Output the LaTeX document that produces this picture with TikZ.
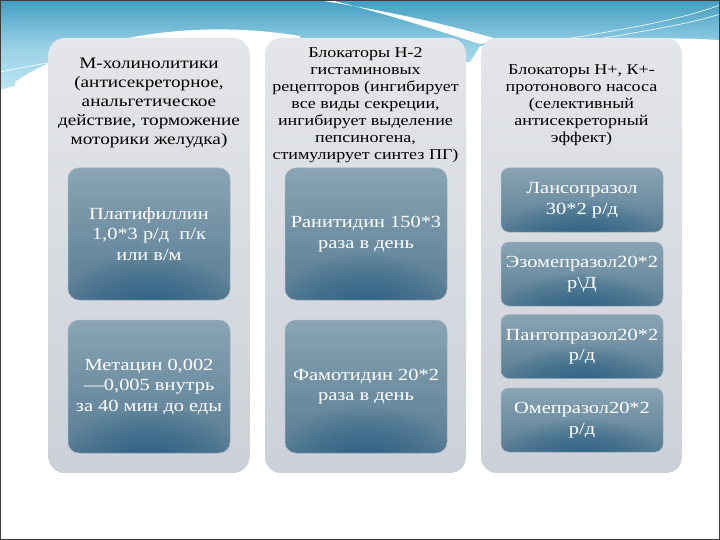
\documentclass[tikz,border=0pt]{standalone}
\usepackage{fontspec}
\setmainfont{Liberation Serif}[FakeStretch=1.2]
\usetikzlibrary{calc}
\definecolor{bgTop}{RGB}{66,158,194}
\definecolor{bgMid}{RGB}{150,207,228}
\definecolor{bgLow}{RGB}{190,230,242}
\definecolor{panelTop}{RGB}{228,230,233}
\definecolor{panelBot}{RGB}{204,208,216}
\definecolor{boxTop}{RGB}{138,164,180}
\definecolor{boxMid}{RGB}{112,144,163}
\definecolor{boxBot}{RGB}{88,124,148}
\definecolor{boxSpot}{RGB}{30,88,128}
\definecolor{boxEdge}{RGB}{160,178,192}
\definecolor{frameCol}{RGB}{60,60,60}
\newcommand{\glowlayers}[2]{%
  \foreach \k in {1,...,10}{%
    \fill[boxSpot, opacity=.075]
      ([yshift=-4pt]path picture bounding box.south) ellipse [x radius={#1*(1.08-0.09*\k)}, y radius={#2*(1.08-0.09*\k)}];}}
\tikzset{
  panel/.style={rounded corners=16pt, top color=panelTop, bottom color=panelBot, draw=none, minimum width=201pt, inner sep=0pt},
  dbox/.style={rounded corners=11pt, top color=boxTop, bottom color=boxBot, middle color=boxMid, draw=boxEdge, line width=0.5pt,
    minimum width=162pt, inner sep=0pt, text=white, align=center, font=\fontsize{17}{20.5}\selectfont,
    path picture={\glowlayers{85pt}{50pt}}},
  sbox/.style={dbox, rounded corners=8pt, minimum height=64pt,
    path picture={\glowlayers{80pt}{36pt}}},
  head/.style={align=center, text=black, inner sep=0pt}
}
\begin{document}
\begin{tikzpicture}[x=1pt,y=-1pt]
\useasboundingbox (0,0) rectangle (720,540);
\fill[white] (0,0) rectangle (720,540);
% background wave
\shade[top color=bgTop, bottom color=bgLow, middle color=bgMid] (0,0) -- (720,0) -- (720,40)
  .. controls (640,36) and (560,38) .. (480,46) -- (470,62) -- (250,60)
  .. controls (150,62) and (60,72) .. (0,90) -- cycle;
\fill[white] (15,82) .. controls (80,38) and (190,18) .. (300,36) -- (300,70) -- (15,90) -- cycle;
\fill[white] (318,0) .. controls (380,10) and (440,22) .. (500,40) -- (480,44)
  .. controls (430,28) and (380,12) .. (330,0) -- cycle;
\fill[white] (720,42) .. controls (700,38) and (690,38) .. (682,40) -- (682,60) -- (720,60) -- cycle;
\draw[white, line width=0.6pt] (560,40) .. controls (620,30) and (680,20) .. (720,5);
\draw[white, line width=0.6pt] (580,42) .. controls (640,32) and (690,24) .. (720,14);
\draw[white, line width=0.6pt] (0,72) .. controls (30,66) and (50,62) .. (70,60);
% panels
\node[panel, minimum height=435pt] (p1) at (149,255.5) {};
\node[panel, minimum height=435pt] (p2) at (365.5,255.5) {};
\node[panel, minimum height=435pt] (p3) at (581.5,255.5) {};
% headers
\node[head, font=\fontsize{16}{19.2}\selectfont] (h1) at (149,103) {М-холинолитики\\(антисекреторное,\\анальгетическое\\действие, торможение\\моторики желудка)};
\node[head, font=\fontsize{15}{17}\selectfont] (h2) at (365.5,105) {Блокаторы Н-2\\гистаминовых\\рецепторов (ингибирует\\все виды секреции,\\ингибирует выделение\\пепсиногена,\\стимулирует синтез ПГ)};
\node[head, font=\fontsize{15}{17}\selectfont] (h3) at (581.5,105) {Блокаторы Н+, К+-\\протонового насоса\\(селективный\\антисекреторный\\эффект)};
% column 1
\node[dbox, minimum height=132pt] (b11) at (149,234) {Платифиллин\\1,0*3 р/д\ \ п/к\\или в/м};
\node[dbox, minimum height=133pt] (b12) at (149,386.5) {Метацин 0,002\\—0,005 внутрь\\за 40 мин до еды};
% column 2
\node[dbox, minimum height=132pt] (b21) at (366,234) {Ранитидин 150*3\\раза в день};
\node[dbox, minimum height=133pt] (b22) at (366,386.5) {Фамотидин 20*2\\раза в день};
% column 3
\node[sbox] (b31) at (582,200) {Лансопразол\\30*2 р/д};
\node[sbox] (b32) at (582,274) {Эзомепразол20*2\\р\textbackslash Д};
\node[sbox] (b33) at (582,346.5) {Пантопразол20*2\\р/д};
\node[sbox] (b34) at (582,420) {Омепразол20*2\\р/д};
% frame
\draw[frameCol, line width=1pt] (0.5,0.5) rectangle (719.5,539.5);
\end{tikzpicture}
\end{document}
